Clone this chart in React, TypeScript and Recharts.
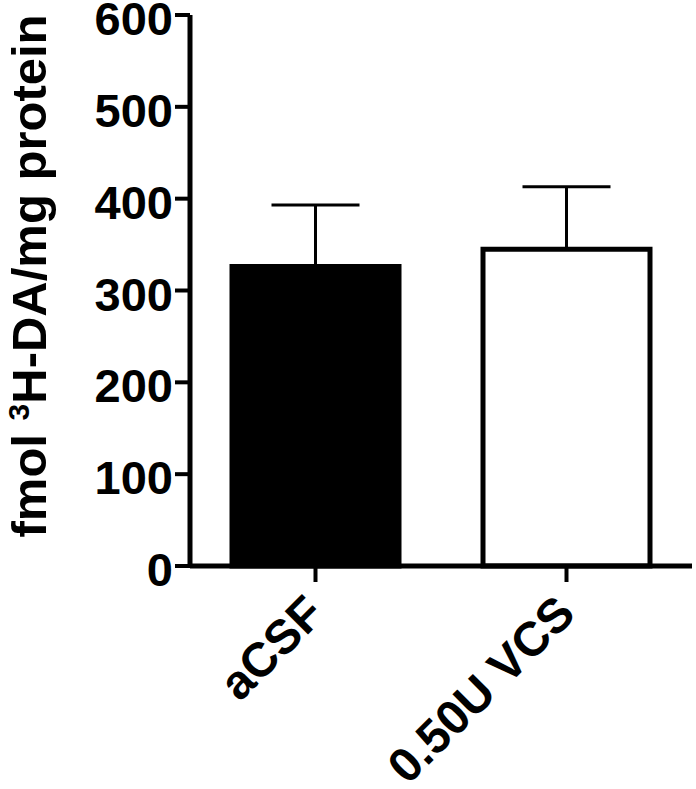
import { Bar, BarChart, Cell, ErrorBar, XAxis, YAxis } from 'recharts';

const groups = ['aCSF', '0.50U VCS'];
const means = [326, 345];
const sem = [67, 68];
const fills = ['#000000', '#ffffff'];
const yTicks = [0, 100, 200, 300, 400, 500, 600];

// one-sided error bars: nothing below the mean, SEM above
const data = groups.map((name, i) => ({ name, value: means[i], err: [0, sem[i]] }));

const FONT = '"Liberation Sans", Arial, Helvetica, sans-serif';

function SlantTick({ x, y, payload }: any) {
  return (
    <g transform={`translate(${x + 11},${y + 32}) rotate(-45)`}>
      <text
        x={0}
        y={0}
        textAnchor="end"
        fontFamily={FONT}
        fontWeight="bold"
        fontSize={48}
        fill="#000"
      >
        {payload.value}
      </text>
    </g>
  );
}

function ValueTick({ x, y, payload }: any) {
  return (
    <text
      x={x}
      y={y}
      dy={20}
      textAnchor="end"
      fontFamily={FONT}
      fontWeight="bold"
      fontSize={47}
      fill="#000"
    >
      {payload.value}
    </text>
  );
}

function YTitle() {
  const x = 46;
  const y = 276;
  return (
    <text
      x={x}
      y={y}
      transform={`rotate(-90, ${x}, ${y})`}
      textAnchor="middle"
      fontFamily={FONT}
      fontWeight="bold"
      fontSize={49}
      fill="#000"
    >
      fmol <tspan dy={-17} fontSize={30}>3</tspan>
      <tspan dy={17}>H-DA/mg protein</tspan>
    </text>
  );
}

export default function App() {
  return (
    <div style={{ position: 'absolute', left: 0, top: 0, background: '#fff' }}>
      <BarChart
        width={696}
        height={789}
        data={data}
        margin={{ top: 15, right: 4, left: 0, bottom: 23 }}
      >
        <YAxis
          width={190}
          domain={[0, 600]}
          ticks={yTicks}
          interval={0}
          tickSize={15}
          tickMargin={2}
          axisLine={{ stroke: '#000', strokeWidth: 5 }}
          tickLine={{ stroke: '#000', strokeWidth: 4 }}
          tick={<ValueTick />}
          label={<YTitle />}
        />
        <XAxis
          dataKey="name"
          height={200}
          interval={0}
          tickSize={16}
          axisLine={{ stroke: '#000', strokeWidth: 5 }}
          tickLine={{ stroke: '#000', strokeWidth: 4 }}
          tick={<SlantTick />}
        />
        <Bar dataKey="value" barSize={167} stroke="#000" strokeWidth={5} isAnimationActive={false}>
          {data.map((d, i) => (
            <Cell key={d.name} fill={fills[i]} />
          ))}
          <ErrorBar dataKey="err" width={44} strokeWidth={3} stroke="#000" isAnimationActive={false} />
        </Bar>
      </BarChart>
    </div>
  );
}
